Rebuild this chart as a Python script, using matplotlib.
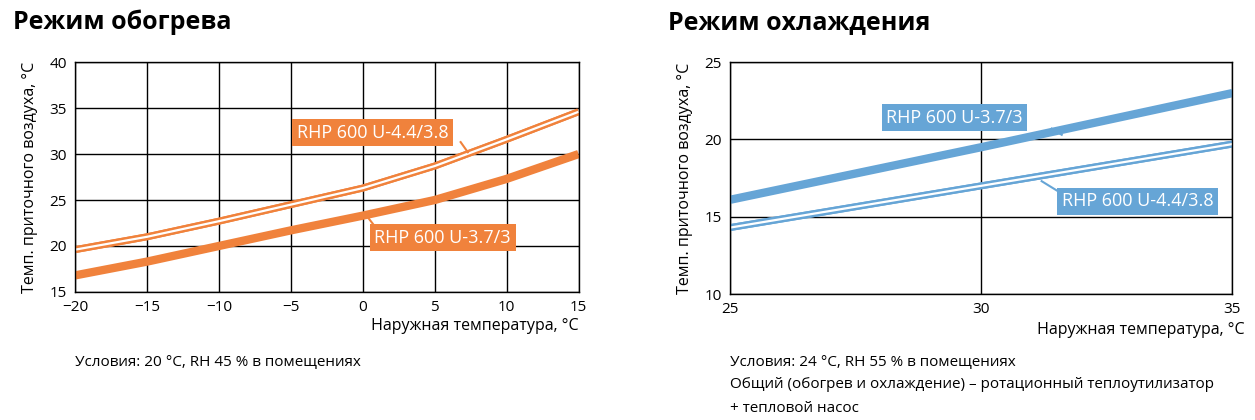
import matplotlib.pyplot as plt
import matplotlib.patheffects as pe

plt.rcParams['font.family'] = 'Open Sans'

heat_x = [-20, -15, -10, -5, 0, 5, 10, 15]
heat_44 = [19.6, 21.0, 22.7, 24.5, 26.3, 28.7, 31.6, 34.6]
heat_37 = [16.8, 18.3, 20.0, 21.7, 23.3, 25.0, 27.3, 30.0]
cool_x = [25, 30, 35]
cool_37 = [16.1, 19.5, 23.0]
cool_44 = [14.3, 17.0, 19.7]

ORANGE = '#f0823c'
BLUE = '#66a5d6'

fig = plt.figure(figsize=(12.55, 4.2), dpi=100)
ax1 = fig.add_axes([0.060, 0.305, 0.401, 0.547])
ax2 = fig.add_axes([0.582, 0.300, 0.400, 0.552])


def style(ax):
    ax.grid(True, color='black', linewidth=1)
    for s in ax.spines.values():
        s.set_linewidth(1)
    ax.tick_params(length=0, labelsize=11, pad=6)
    ax.set_axisbelow(True)


def double(ax, x, y, c):
    ax.plot(x, y, color=c, linewidth=5, solid_capstyle='butt',
            path_effects=[pe.Stroke(linewidth=5, foreground=c), pe.Normal()])
    ax.plot(x, y, color='white', linewidth=1.6, solid_capstyle='butt')


def label(ax, x, y, txt, c):
    ax.text(x, y, txt, color='white', fontsize=13, ha='left', va='center',
            bbox=dict(boxstyle='square,pad=0.25', fc=c, ec='none'))


# heating
style(ax1)
ax1.plot(heat_x, heat_37, color=ORANGE, linewidth=6, solid_capstyle='butt')
double(ax1, heat_x, heat_44, ORANGE)
ax1.set_xlim(-20, 15)
ax1.set_ylim(15, 40)
ax1.set_xticks(heat_x)
ax1.set_yticks([15, 20, 25, 30, 35, 40])
label(ax1, -4.6, 32.3, 'RHP 600 U-4.4/3.8', ORANGE)
ax1.plot([6.8, 7.3], [31.3, 30.2], color=ORANGE, linewidth=1.5)
label(ax1, 0.8, 20.9, 'RHP 600 U-3.7/3', ORANGE)
ax1.plot([0.3, 0.8], [23.2, 22.2], color=ORANGE, linewidth=1.5)
ax1.set_ylabel('Темп. приточного воздуха, °C', fontsize=11.5, labelpad=8)
fig.text(0.461, 0.215, 'Наружная температура, °C', fontsize=11.5, ha='right')
fig.text(0.060, 0.13, 'Условия: 20 °C, RH 45 % в помещениях', fontsize=11)
fig.text(0.010, 0.93, 'Режим обогрева', fontsize=18, fontweight='bold')

# cooling
style(ax2)
ax2.plot(cool_x, cool_37, color=BLUE, linewidth=6, solid_capstyle='butt')
double(ax2, cool_x, cool_44, BLUE)
ax2.set_xlim(25, 35)
ax2.set_ylim(10, 25)
ax2.set_xticks([25, 30, 35])
ax2.set_yticks([10, 15, 20, 25])
label(ax2, 28.1, 21.4, 'RHP 600 U-3.7/3', BLUE)
ax2.plot([31.4, 31.6], [20.7, 20.3], color=BLUE, linewidth=1.5)
label(ax2, 31.6, 16.0, 'RHP 600 U-4.4/3.8', BLUE)
ax2.plot([31.2, 31.5], [17.3, 16.7], color=BLUE, linewidth=1.5)
ax2.set_ylabel('Темп. приточного воздуха, °C', fontsize=11.5, labelpad=8)
fig.text(0.992, 0.205, 'Наружная температура, °C', fontsize=11.5, ha='right')
fig.text(0.582, 0.13, 'Условия: 24 °C, RH 55 % в помещениях', fontsize=11)
fig.text(0.582, 0.075, 'Общий (обогрев и охлаждение) – ротационный теплоутилизатор', fontsize=11)
fig.text(0.582, 0.02, '+ тепловой насос', fontsize=11)
fig.text(0.532, 0.93, 'Режим охлаждения', fontsize=18, fontweight='bold')

fig.savefig('out.png', dpi=100)
